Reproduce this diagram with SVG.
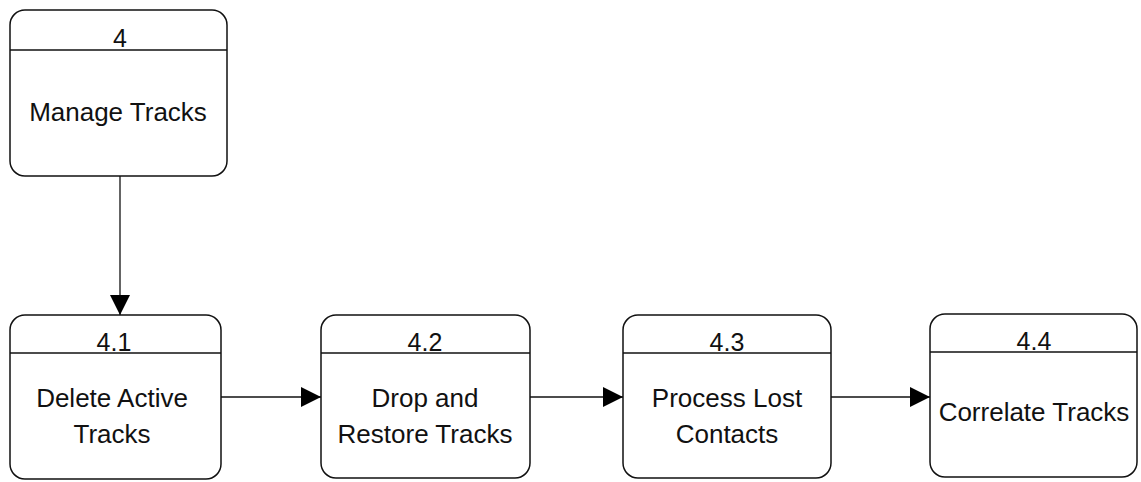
<svg xmlns="http://www.w3.org/2000/svg" width="1141" height="482" viewBox="0 0 1141 482">
<style>
.box{fill:#fff;stroke:#111;stroke-width:1.5}
.hl{stroke:#111;stroke-width:1.3}
.t{font-family:"Liberation Sans",Arial,sans-serif;font-size:26px;fill:#111;text-anchor:middle}
.n{font-family:"Liberation Sans",Arial,sans-serif;font-size:25px;fill:#111;text-anchor:middle}
.c{stroke:#111;stroke-width:1.3;fill:none}
</style>
<defs>
<marker id="ah" markerWidth="20" markerHeight="20" refX="20" refY="10" orient="auto" markerUnits="userSpaceOnUse">
<path d="M0,0 L20,10 L0,20 Z" fill="#000"/>
</marker>
</defs>
<g id="connectors">
<line class="c" x1="120" y1="176" x2="120" y2="315" marker-end="url(#ah)"/>
<line class="c" x1="221" y1="397" x2="321" y2="397" marker-end="url(#ah)"/>
<line class="c" x1="530" y1="397" x2="623" y2="397" marker-end="url(#ah)"/>
<line class="c" x1="831" y1="397" x2="930" y2="397" marker-end="url(#ah)"/>
</g>
<g id="node-4">
<rect class="box" x="10" y="10" width="217" height="166" rx="15"/>
<line class="hl" x1="10" y1="50" x2="227" y2="50"/>
<text class="n" x="120" y="47">4</text>
<text class="t" x="118" y="121">Manage Tracks</text>
</g>
<g id="node-4-1">
<rect class="box" x="10" y="315" width="211" height="164" rx="15"/>
<line class="hl" x1="10" y1="353" x2="221" y2="353"/>
<text class="n" x="114" y="351">4.1</text>
<text class="t" x="112" y="407">Delete Active</text>
<text class="t" x="112" y="443">Tracks</text>
</g>
<g id="node-4-2">
<rect class="box" x="321" y="315" width="209" height="163" rx="15"/>
<line class="hl" x1="321" y1="353" x2="530" y2="353"/>
<text class="n" x="425" y="351">4.2</text>
<text class="t" x="425" y="407">Drop and</text>
<text class="t" x="425" y="443">Restore Tracks</text>
</g>
<g id="node-4-3">
<rect class="box" x="623" y="315" width="208" height="163" rx="15"/>
<line class="hl" x1="623" y1="353" x2="831" y2="353"/>
<text class="n" x="727" y="351">4.3</text>
<text class="t" x="727" y="407">Process Lost</text>
<text class="t" x="727" y="443">Contacts</text>
</g>
<g id="node-4-4">
<rect class="box" x="930" y="314" width="207" height="163" rx="15"/>
<line class="hl" x1="930" y1="352" x2="1137" y2="352"/>
<text class="n" x="1034" y="350">4.4</text>
<text class="t" x="1034" y="421">Correlate Tracks</text>
</g>
</svg>
